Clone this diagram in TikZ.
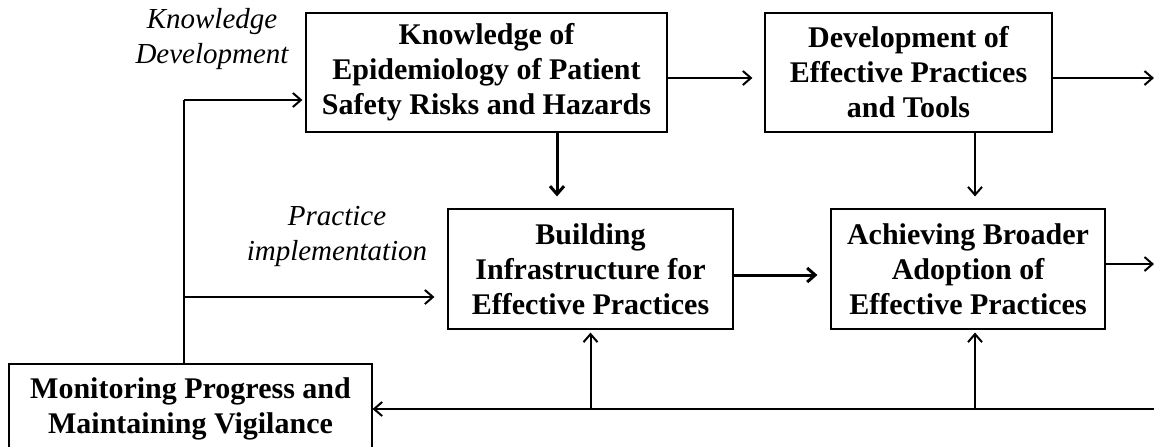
\documentclass[tikz,border=0pt]{standalone}
\usepackage{fontspec}
\setmainfont{Liberation Serif}
\usetikzlibrary{arrows.meta}
\tikzset{
  stage/.style={draw,line width=0.6pt,align=center,inner sep=0pt,
    font=\fontsize{15}{17.5}\selectfont\bfseries},
  phase/.style={align=center,font=\fontsize{14.5}{17.5}\selectfont\itshape},
  flow/.style={-{Straight Barb[length=4pt,width=7pt]},line width=1pt},
  bigflow/.style={flow,line width=1.5pt}
}
\begin{document}
\begin{tikzpicture}[x=0.5pt,y=-0.5pt]
\useasboundingbox (0,0) rectangle (1154,446);
\node[stage,minimum width=180.5pt,minimum height=59.5pt] (epi) at (486.5,72.5) {Knowledge of\\Epidemiology of Patient\\Safety Risks and Hazards};
\node[stage,minimum width=143.5pt,minimum height=59.5pt] (tools) at (908.5,72.5) {Development of\\Effective Practices\\and Tools};
\node[stage,minimum width=142.5pt,minimum height=60pt] (infra) at (590.5,269) {Building\\Infrastructure for\\Effective Practices};
\node[stage,minimum width=137pt,minimum height=60pt] (adopt) at (968,269) {Achieving Broader\\Adoption of\\Effective Practices};
\node[stage,minimum width=181.5pt,minimum height=45pt] (watch) at (190.5,409) {Monitoring Progress and\\Maintaining Vigilance};
\node[phase] (kdev) at (212,39.5) {Knowledge\\Development};
\node[phase] (pimp) at (337,236) {Practice\\implementation};
\coordinate (kd) at (184,100);
\coordinate (pi) at (184,297);
\coordinate (rowab) at (0,78);
\coordinate (rowcd) at (0,275);
\coordinate (rowout) at (0,264);
\coordinate (colac) at (557,0);
\coordinate (colbd) at (975,0);
\coordinate (outB) at (1154,78);
\coordinate (outD) at (1154,264);
\coordinate (fbr) at (1154,409);
% loop back from monitoring
\draw[line width=1pt] (kd |- watch.north) -- (kd);
\draw[flow,shorten >=1.5pt] (kd) -- (epi.west |- kd);
\draw[flow,shorten >=6.5pt] (pi) -- (infra.west |- pi);
\draw[flow,shorten >=6pt] (epi.east |- rowab) -- (tools.west |- rowab);
\draw[flow] (tools.east |- rowab) -- (outB);
\draw[bigflow,shorten >=6pt] (epi.south -| colac) -- (infra.north -| colac);
\draw[flow,shorten >=6pt] (tools.south -| colbd) -- (adopt.north -| colbd);
\draw[bigflow,shorten >=6.5pt] (infra.east |- rowcd) -- (adopt.west |- rowcd);
\draw[flow] (adopt.east |- rowout) -- (outD);
% feedback line
\draw[flow] (fbr) -- (watch.east);
\draw[flow,shorten >=1.5pt] (infra.south |- watch.east) -- (infra.south);
\draw[flow,shorten >=1.5pt] (colbd |- watch.east) -- (adopt.south -| colbd);
\end{tikzpicture}
\end{document}
